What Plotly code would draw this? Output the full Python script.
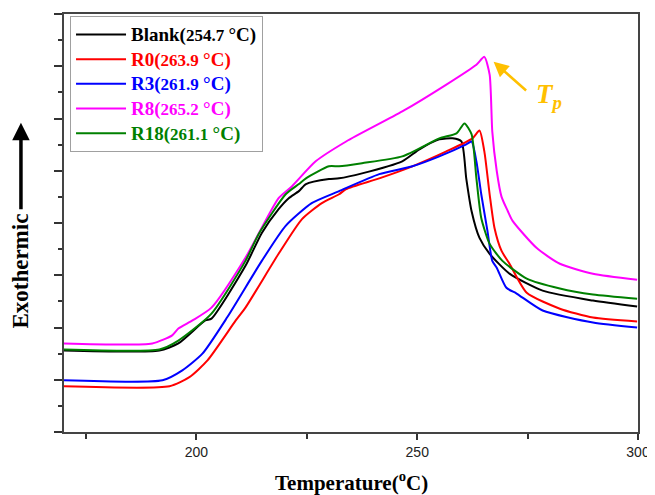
import plotly.graph_objects as go

# ---- data (temperature in °C, heat flow in arbitrary units) ----
blank_T = [170, 191.6, 195.9, 202, 203.4, 211.1, 214.8, 218.6, 220.9, 223.2, 224.8, 230, 232.3, 237.5, 246.6, 250.5, 255, 258, 260, 261.1, 262.3, 264.1, 266.4, 270.9, 278.4, 289.8, 299.8]
blank_Y = [3.12, 3.12, 3.39, 4.27, 4.34, 6.36, 7.62, 8.53, 8.95, 9.22, 9.49, 9.68, 9.71, 9.90, 10.36, 10.82, 11.2, 11.24, 11.12, 9.71, 8.46, 7.43, 6.82, 6.06, 5.41, 5.03, 4.80]

r0_T = [170, 193.9, 198.4, 202.5, 208.9, 211.1, 218.6, 223.9, 228.4, 232.3, 233.9, 241.4, 248.9, 256.6, 262.5, 264.1, 265.2, 266.4, 267.5, 269.1, 270.9, 274.8, 282.3, 289.8, 299.8]
r0_Y = [1.75, 1.75, 2.10, 2.74, 4.27, 4.76, 6.82, 8.15, 8.76, 9.10, 9.30, 9.71, 10.17, 10.74, 11.24, 11.54, 10.74, 9.10, 7.81, 6.93, 6.44, 5.33, 4.72, 4.38, 4.23]

r3_T = [170, 192.3, 196.8, 201.4, 207, 214.8, 220.2, 226.1, 232.3, 241.4, 248.9, 255, 261.1, 262.3, 263.4, 264.5, 265.9, 267, 268, 270.2, 272.5, 278.4, 289.8, 299.8]
r3_Y = [1.98, 1.98, 2.36, 3.01, 4.4, 6.55, 7.89, 8.76, 9.22, 9.87, 10.17, 10.55, 11.01, 11.12, 10.36, 9.10, 7.70, 6.55, 6.29, 5.52, 5.30, 4.65, 4.19, 4.0]

r8_T = [170, 190, 194.5, 195.9, 199.1, 203.4, 211.1, 218.6, 221.6, 227, 233.9, 246.6, 256.6, 263.4, 265.2, 266.4, 267, 268, 269.1, 270.5, 271.6, 277, 282.3, 289.8, 299.8]
r8_Y = [3.39, 3.39, 3.70, 3.96, 4.27, 4.76, 6.67, 8.95, 9.40, 10.36, 11.12, 12.27, 13.30, 14.06, 14.36, 13.68, 11.5, 10.0, 9.0, 8.46, 8.08, 7.05, 6.44, 6.06, 5.83]

r18_T = [170, 191.6, 195.9, 203.4, 211.1, 214.1, 220.2, 223.2, 224.8, 230, 232.3, 237.5, 246.6, 255, 258.9, 260.7, 262.3, 263.4, 264.5, 266.4, 269.3, 274.8, 282.3, 289.8, 299.8]
r18_Y = [3.16, 3.16, 3.50, 4.53, 6.55, 7.58, 9.10, 9.49, 9.71, 10.17, 10.17, 10.29, 10.55, 11.24, 11.43, 11.81, 11.4, 9.71, 8.19, 7.2, 6.55, 5.87, 5.49, 5.26, 5.10]

names = ["Blank", "R0", "R3", "R8", "R18"]
peaks = ["254.7", "263.9", "261.9", "265.2", "261.1"]
colors = ["#000000", "#FF0000", "#0000FF", "#FF00FF", "#008000"]
series = [(blank_T, blank_Y), (r0_T, r0_Y), (r3_T, r3_Y), (r8_T, r8_Y), (r18_T, r18_Y)]

x_ticks = [200, 250, 300]

fig = go.Figure()
for name, pk, col, (xs, ys) in zip(names, peaks, colors, series):
    label = (f'<span style="color:{col};font-size:19px"><b>{name}('
             f'<span style="font-size:17px">{pk} </span>°C)</b></span>')
    fig.add_trace(go.Scatter(x=xs, y=ys, mode="lines", name=label,
                             line=dict(color=col, width=2, shape="spline", smoothing=0.6)))

# the page body adds an 8px offset, so the figure is made 8px smaller
fig.update_layout(
    width=647, height=487,
    margin=dict(l=56, r=17, t=4, b=63),
    paper_bgcolor="white", plot_bgcolor="white",
    font=dict(family="Liberation Serif", size=17, color="black"),
    showlegend=True,
    legend=dict(x=0.0105, y=0.995, xanchor="left", yanchor="top",
                bgcolor="white", bordercolor="#a0a0a0", borderwidth=1,
                itemwidth=50, font=dict(family="Liberation Serif", size=16.7),
                tracegroupgap=0),
)

fig.update_xaxes(range=[170, 300], tickvals=x_ticks, ticks="outside", ticklen=6,
                 tickwidth=1.5, tickcolor="#333",
                 showline=True, linecolor="#444", linewidth=1.5, mirror=True,
                 showgrid=False, zeroline=False,
                 tickfont=dict(family="Liberation Sans", size=14, color="#222"),
                 minor=dict(dtick=25, tick0=175, ticks="outside", ticklen=5,
                            tickwidth=1.5, tickcolor="#333", showgrid=False))
fig.update_yaxes(range=[0, 16], dtick=2, tick0=0, ticks="outside", ticklen=8,
                 tickwidth=1.5, tickcolor="#333", showticklabels=False,
                 showline=True, linecolor="#444", linewidth=1.5, mirror=True,
                 showgrid=False, zeroline=False,
                 minor=dict(dtick=1, tick0=1, ticks="outside", ticklen=4,
                            tickwidth=1.5, tickcolor="#333", showgrid=False))

# x axis title
fig.add_annotation(text="<b>Temperature(<sup>o</sup>C)</b>", xref="paper", yref="paper",
                   x=0.5, y=-0.119, xanchor="center", yanchor="middle", showarrow=False,
                   font=dict(family="Liberation Serif", size=21, color="black"))
# y axis title
fig.add_annotation(text="<b>Exothermic</b>", xref="paper", yref="paper",
                   x=-0.075, y=0.386, xanchor="center", yanchor="middle", showarrow=False,
                   textangle=-90, font=dict(family="Liberation Serif", size=23, color="black"))
# Exothermic arrow
fig.add_annotation(text="", xref="paper", yref="paper", x=-0.075, y=0.74,
                   ax=0, ay=88, showarrow=True, arrowhead=2, arrowsize=1.0,
                   arrowwidth=3.5, arrowcolor="black")
# Tp annotation
fig.add_annotation(text="", xref="x", yref="y", x=267.3, y=14.17,
                   ax=34, ay=30, showarrow=True, arrowhead=2, arrowsize=1.2,
                   arrowwidth=2.5, arrowcolor="#FFC000")
fig.add_annotation(text="<b><i>T<sub>p</sub></i></b>", xref="paper", yref="paper",
                   x=(534 - 64) / 574, y=(432 - 94) / 420, xanchor="left", yanchor="middle",
                   showarrow=False, font=dict(family="Liberation Serif", size=27, color="#FFC000"))

fig.write_html("out.html")
